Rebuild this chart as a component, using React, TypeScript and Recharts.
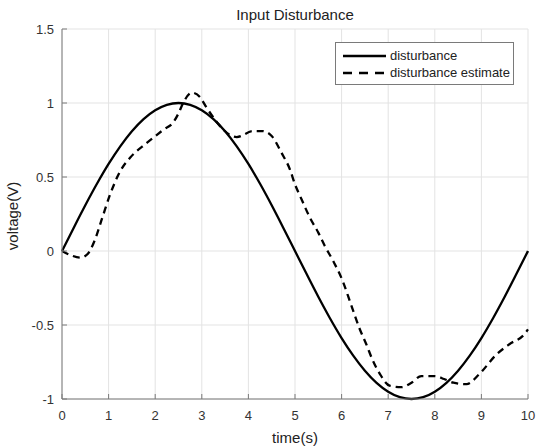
import React from "react";
import {
  LineChart,
  Line,
  XAxis,
  YAxis,
  CartesianGrid,
  Legend,
} from "recharts";

// time axis and voltage axis ticks
const timeTicks = [0, 1, 2, 3, 4, 5, 6, 7, 8, 9, 10];
const voltTicks = [-1, -0.5, 0, 0.5, 1, 1.5];

// disturbance: read every 0.25 s
const distTime = [
  0, 0.25, 0.5, 0.75, 1, 1.25, 1.5, 1.75, 2, 2.25, 2.5, 2.75, 3, 3.25, 3.5,
  3.75, 4, 4.25, 4.5, 4.75, 5, 5.25, 5.5, 5.75, 6, 6.25, 6.5, 6.75, 7, 7.25,
  7.5, 7.75, 8, 8.25, 8.5, 8.75, 9, 9.25, 9.5, 9.75, 10,
];
const distVolt = [
  0, 0.156, 0.309, 0.454, 0.588, 0.707, 0.809, 0.891, 0.951, 0.988, 1, 0.988,
  0.951, 0.891, 0.809, 0.707, 0.588, 0.454, 0.309, 0.156, 0, -0.156, -0.309,
  -0.454, -0.588, -0.707, -0.809, -0.891, -0.951, -0.988, -1, -0.988, -0.951,
  -0.891, -0.809, -0.707, -0.588, -0.454, -0.309, -0.156, 0,
];

// disturbance estimate
const estTime = [
  0, 0.2, 0.4, 0.55, 0.7, 0.86, 1.03, 1.25, 1.46, 1.82, 2.18, 2.39, 2.5, 2.6,
  2.79, 2.96, 3.1, 3.3, 3.46, 3.75, 4.1, 4.3, 4.5, 4.71, 4.89, 5.0, 5.14,
  5.32, 5.5, 5.64, 5.82, 6.02, 6.2, 6.38, 6.53, 6.67, 6.82, 7.03, 7.28, 7.5,
  7.71, 8.0, 8.2, 8.4, 8.68, 8.96, 9.32, 9.6, 9.93, 10,
];
const estVolt = [
  0, -0.03, -0.045, -0.02, 0.07, 0.22, 0.38, 0.54, 0.63, 0.73, 0.82, 0.87,
  0.93, 1.0, 1.07, 1.04, 0.97, 0.88, 0.82, 0.77, 0.81, 0.81, 0.777, 0.664,
  0.552, 0.45, 0.35, 0.225, 0.124, 0.034, -0.068, -0.2, -0.36, -0.52, -0.63,
  -0.74, -0.83, -0.91, -0.92, -0.89, -0.845, -0.845, -0.865, -0.89, -0.9,
  -0.83, -0.7, -0.63, -0.56, -0.53,
];

const distData = distTime.map((t, i) => ({ t, v: distVolt[i] }));
const estData = estTime.map((t, i) => ({ t, v: estVolt[i] }));

const FONT = '"Liberation Sans", Arial, Helvetica, sans-serif';
const AXIS = "#7a7a7a";
const TXT = "#333";
const DASH = "7 5";

// matlab style: ticks point into the box
const BottomTick = ({ x, y, payload }: any) => (
  <g>
    <line x1={x} y1={y} x2={x} y2={y - 5} stroke={AXIS} />
    <text x={x} y={y + 21} textAnchor="middle" fontSize={13} fill={TXT} fontFamily={FONT}>
      {payload.value}
    </text>
  </g>
);
const TopTick = ({ x, y }: any) => <line x1={x} y1={y} x2={x} y2={y + 5} stroke={AXIS} />;
const LeftTick = ({ x, y, payload }: any) => (
  <g>
    <line x1={x} y1={y} x2={x + 5} y2={y} stroke={AXIS} />
    <text x={x - 8} y={y + 4.5} textAnchor="end" fontSize={13} fill={TXT} fontFamily={FONT}>
      {payload.value}
    </text>
  </g>
);
const RightTick = ({ x, y }: any) => <line x1={x} y1={y} x2={x - 5} y2={y} stroke={AXIS} />;

const LegendBox = () => (
  <div
    style={{
      width: 177,
      height: 41,
      border: `1px solid ${AXIS}`,
      background: "#fff",
      fontFamily: FONT,
      fontSize: 13,
      color: "#222",
    }}
  >
    {[
      { name: "disturbance", dash: undefined },
      { name: "disturbance estimate", dash: "9 7" },
    ].map((it, i) => (
      <div key={i} style={{ display: "flex", alignItems: "center", height: 17, marginTop: i ? 0 : 4 }}>
        <svg width={54} height={10} style={{ flex: "none" }}>
          <line x1={7} y1={5} x2={50} y2={5} stroke="#000" strokeWidth={2.5} strokeDasharray={it.dash} />
        </svg>
        <span style={{ whiteSpace: "nowrap" }}>{it.name}</span>
      </div>
    ))}
  </div>
);

export default function App() {
  return (
    <div
      style={{
        position: "absolute",
        left: 0,
        top: 0,
        width: 536,
        height: 447,
        background: "#fff",
        fontFamily: FONT,
      }}
    >
      <div
        style={{
          position: "absolute",
          left: 62,
          width: 466,
          top: 6,
          textAlign: "center",
          fontSize: 15,
          color: "#222",
        }}
      >
        Input Disturbance
      </div>
      <LineChart
        width={536}
        height={447}
        margin={{ top: 29, right: 8, bottom: 0, left: 0 }}
      >
        <CartesianGrid stroke="#e3e3e3" />
        <XAxis
          type="number"
          dataKey="t"
          domain={[0, 10]}
          ticks={timeTicks}
          interval={0}
          height={48}
          tickSize={0}
          tickMargin={0}
          stroke={AXIS}
          tick={<BottomTick />}
          allowDuplicatedCategory={false}
        />
        <XAxis
          xAxisId="top"
          orientation="top"
          type="number"
          dataKey="t"
          domain={[0, 10]}
          ticks={timeTicks}
          interval={0}
          height={0}
          tickSize={0}
          tickMargin={0}
          stroke={AXIS}
          tick={<TopTick />}
        />
        <YAxis
          type="number"
          domain={[-1, 1.5]}
          ticks={voltTicks}
          interval={0}
          width={62}
          tickSize={0}
          tickMargin={0}
          stroke={AXIS}
          tick={<LeftTick />}
        />
        <YAxis
          yAxisId="right"
          orientation="right"
          type="number"
          domain={[-1, 1.5]}
          ticks={voltTicks}
          interval={0}
          width={0}
          tickSize={0}
          tickMargin={0}
          stroke={AXIS}
          tick={<RightTick />}
        />
        <Legend
          layout="vertical"
          align="center"
          verticalAlign="middle"
          wrapperStyle={{ position: "absolute", left: 335, top: 42, width: "auto" }}
          content={() => <LegendBox />}
        />
        <Line
          data={distData}
          dataKey="v"
          type="monotone"
          stroke="#000"
          strokeWidth={2.3}
          dot={false}
          isAnimationActive={false}
        />
        <Line
          data={estData}
          dataKey="v"
          xAxisId="top"
          yAxisId="right"
          type="monotone"
          stroke="#000"
          strokeWidth={2.3}
          strokeDasharray={DASH}
          dot={false}
          isAnimationActive={false}
        />
      </LineChart>
      <div
        style={{
          position: "absolute",
          left: 62,
          width: 466,
          top: 429,
          textAlign: "center",
          fontSize: 15,
          color: "#222",
        }}
      >
        time(s)
      </div>
      <div
        style={{
          position: "absolute",
          left: 12,
          top: 216,
          transform: "translate(-50%, -50%) rotate(-90deg)",
          fontSize: 15,
          color: "#222",
          whiteSpace: "nowrap",
        }}
      >
        voltage(V)
      </div>
    </div>
  );
}
